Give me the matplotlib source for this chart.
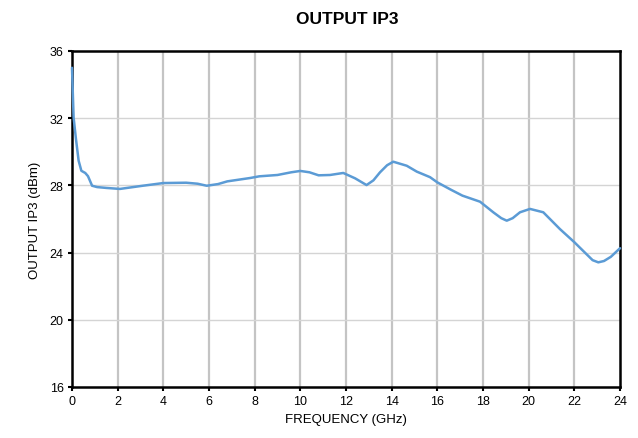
import matplotlib.pyplot as plt

# valeurs
freq = [0, 0.07, 0.17, 0.29, 0.41, 0.58, 0.7, 0.88, 1.1, 1.5, 2.1, 3.1, 4.0, 5.0, 5.5,
        5.9, 6.4, 6.8, 7.8, 8.2, 9.0, 9.6, 10.0, 10.4, 10.8, 11.3, 11.88, 12.4, 12.9,
        13.2, 13.49, 13.8, 14.07, 14.66, 15.1, 15.68, 16.0, 16.6, 17.1, 17.87, 18.45,
        18.8, 19.04, 19.3, 19.62, 20.06, 20.64, 21.37, 22.0, 22.5, 22.8, 23.05, 23.3,
        23.6, 24]
ip3 = [35.0, 32.05, 30.8, 29.47, 28.87, 28.74, 28.55, 27.98, 27.9, 27.85, 27.79, 27.98,
       28.14, 28.16, 28.1, 27.98, 28.08, 28.24, 28.44, 28.54, 28.62, 28.78, 28.86, 28.78,
       28.6, 28.62, 28.74, 28.42, 28.02, 28.3, 28.78, 29.2, 29.41, 29.17, 28.82, 28.49,
       28.18, 27.74, 27.39, 27.03, 26.4, 26.05, 25.9, 26.05, 26.4, 26.6, 26.4, 25.4,
       24.62, 23.95, 23.55, 23.42, 23.5, 23.75, 24.26]

xticks = list(range(0, 25, 2))
yticks = list(range(16, 37, 4))

plt.rcParams['font.family'] = ['Liberation Sans', 'DejaVu Sans']

fig = plt.figure(figsize=(6.38, 4.39), dpi=100)
ax = fig.add_axes([72/638, 1-388/439, 548/638, 336/439])

# grille : verticales plus épaisses que les horizontales
for x in xticks[1:-1]:
    ax.axvline(x, color='#c4c4c4', linewidth=1.6, zorder=1)
for y in yticks[1:-1]:
    ax.axhline(y, color='#d4d4d4', linewidth=1.0, zorder=1)

ax.plot(freq, ip3, color='#5b9bd5', linewidth=1.8, zorder=5, clip_on=False,
        solid_joinstyle='round', solid_capstyle='round')

ax.set_xlim(0, 24)
ax.set_ylim(16, 36)
ax.set_xticks(xticks)
ax.set_yticks(yticks)
ax.tick_params(direction='out', length=3, width=1.5, labelsize=9, pad=3)
for s in ax.spines.values():
    s.set_linewidth(1.8)
    s.set_color('black')
    s.set_zorder(4)

ax.set_xlabel('FREQUENCY (GHz)', fontsize=9.5, labelpad=4)
ax.set_ylabel('OUTPUT IP3 (dBm)', fontsize=9.5, labelpad=6)
fig.text(0.545, 0.955, 'OUTPUT IP3', ha='center', va='center', fontsize=12.5, fontweight='bold')

plt.savefig('out.png', dpi=100)
plt.close()
